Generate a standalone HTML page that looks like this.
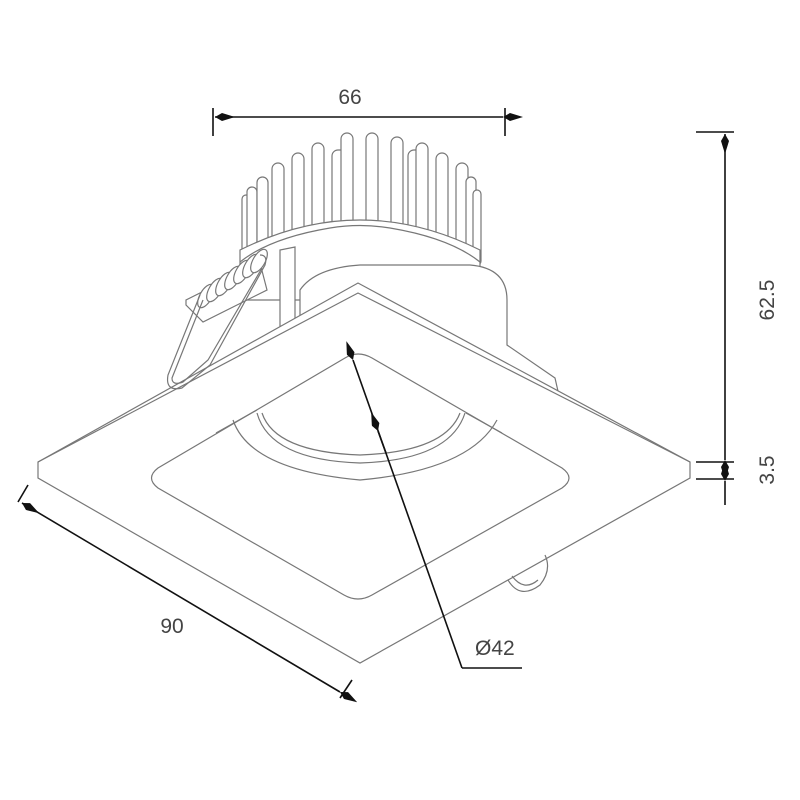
<!DOCTYPE html>
<html><head><meta charset="utf-8"><style>
html,body{margin:0;padding:0;background:#fff}
svg{display:block}
text{font-family:"Liberation Sans",sans-serif;fill:#444;font-size:21px}
</style></head><body>
<svg width="800" height="800" viewBox="0 0 800 800" xmlns="http://www.w3.org/2000/svg">
<defs>
<marker id="d" viewBox="-10 -4 20 8" markerWidth="20" markerHeight="8" refX="-10" refY="0" orient="auto" markerUnits="userSpaceOnUse">
<path d="M-10 0 L-3 -4 L10 0 L-3 4 Z" fill="#111"/>
</marker>
</defs>
<g fill="#fff" stroke="#777" stroke-width="1.2">
<g>
<rect x="242" y="195" width="8" height="70" rx="4"/>
<rect x="247" y="187" width="10" height="80" rx="5"/>
<rect x="257" y="177" width="11" height="90" rx="5.5"/>
<rect x="272" y="163" width="12" height="100" rx="6"/>
<rect x="292" y="153" width="12" height="110" rx="6"/>
<rect x="312" y="143" width="12" height="115" rx="6"/>
<rect x="332" y="150" width="14" height="110" rx="6"/>
<rect x="341" y="133" width="12" height="125" rx="6"/>
<rect x="366" y="133" width="12" height="125" rx="6"/>
<rect x="391" y="137" width="12" height="125" rx="6"/>
<rect x="408" y="150" width="14" height="110" rx="6"/>
<rect x="416" y="143" width="12" height="115" rx="6"/>
<rect x="436" y="153" width="12" height="110" rx="6"/>
<rect x="456" y="163" width="12" height="100" rx="6"/>
<rect x="466" y="177" width="10" height="90" rx="5"/>
<rect x="473" y="190" width="8" height="75" rx="4"/>
</g>
<path d="M240 250 Q360 190 480 250 L480 300 L240 300 Z"/>
<path d="M240 262 Q270 238 330 228 Q360 223 390 228 Q450 238 480 262"/>
<path d="M300 330 L300 290 Q315 268 360 265 L470 265 Q507 268 507 300 L507 345 L555 378 L560 400 L420 400 Z"/>
<path d="M280 330 L280 250 L295 247 L295 320"/>
<path d="M186 305 L186 300 L260 263 L267 290 L203 322 Z"/>
<path d="M38 462 L358 283 L690 462 L690 478 L360 663 L38 478 Z"/>
<path d="M38 462 L358 293 L690 462" fill="none"/>
<path d="M345 358 Q358 350 372 358 L562 468 Q576 478 562 488 L372 595 Q358 603 344 595 L158 488 Q145 478 158 468 Z"/>
<path d="M216 433 L257 410" fill="none"/>
<path d="M502 433 L466 413" fill="none"/>
<path d="M233 420 Q250 470 360 480 Q470 470 497 420" fill="none"/>
<path d="M257 413 Q270 460 360 463 Q450 460 465 413" fill="none"/>
<path d="M262 413 Q275 452 360 455 Q445 452 460 413" fill="none"/>
<path d="M508 580 Q520 600 540 585 Q552 570 545 555" fill="none"/>
<path d="M512 576 Q524 592 538 580" fill="none"/>
</g>
<g fill="#fff" stroke="#777" stroke-width="1.2">
<ellipse cx="206" cy="296" rx="6" ry="13" transform="rotate(30 206 296)"/>
<ellipse cx="215" cy="290" rx="6" ry="13" transform="rotate(30 215 290)"/>
<ellipse cx="224" cy="284" rx="6" ry="13" transform="rotate(30 224 284)"/>
<ellipse cx="233" cy="278" rx="6" ry="13" transform="rotate(30 233 278)"/>
<ellipse cx="242" cy="272" rx="6" ry="13" transform="rotate(30 242 272)"/>
<ellipse cx="251" cy="266" rx="6" ry="13" transform="rotate(30 251 266)"/>
<ellipse cx="259" cy="261" rx="6" ry="13" transform="rotate(30 259 261)"/>
</g>
<g fill="none" stroke="#777" stroke-width="1.2">
<path d="M200 295 L168 375 Q165 392 182 388 L210 365 L265 265 Q268 255 260 255"/>
<path d="M203 300 L172 378 Q172 386 183 382 L208 360 L262 268"/>
</g>
<g stroke="#111" stroke-width="1.6" fill="none">
<line x1="213" y1="108" x2="213" y2="136"/>
<line x1="505" y1="108" x2="505" y2="136"/>
<line x1="215" y1="117" x2="503" y2="117" marker-start="url(#d)" marker-end="url(#d)"/>
<line x1="696" y1="132" x2="734" y2="132"/>
<line x1="696" y1="462" x2="734" y2="462"/>
<line x1="696" y1="479" x2="734" y2="479"/>
<line x1="725" y1="134" x2="725" y2="460" marker-start="url(#d)" marker-end="url(#d)"/>
<line x1="725" y1="462" x2="725" y2="479"/>
<line x1="725" y1="490" x2="725" y2="481" marker-end="url(#d)"/>
<line x1="725" y1="490" x2="725" y2="505"/>
<line x1="18" y1="502" x2="28" y2="485"/>
<line x1="340" y1="698" x2="352" y2="680"/>
<line x1="22" y1="503" x2="340" y2="692" marker-start="url(#d)" marker-end="url(#d)"/>
<polyline points="462,668 522,668" />
<line x1="462" y1="668" x2="353" y2="360" marker-end="url(#d)"/>
<line x1="386" y1="453" x2="378" y2="431" marker-end="url(#d)"/>
</g>
<text x="350" y="104" text-anchor="middle">66</text>
<text x="172" y="633" text-anchor="middle">90</text>
<text x="475" y="655">Ø42</text>
<text transform="translate(774 300) rotate(-90)" text-anchor="middle">62.5</text>
<text transform="translate(774 470) rotate(-90)" text-anchor="middle">3.5</text>
</svg>
</body></html>
